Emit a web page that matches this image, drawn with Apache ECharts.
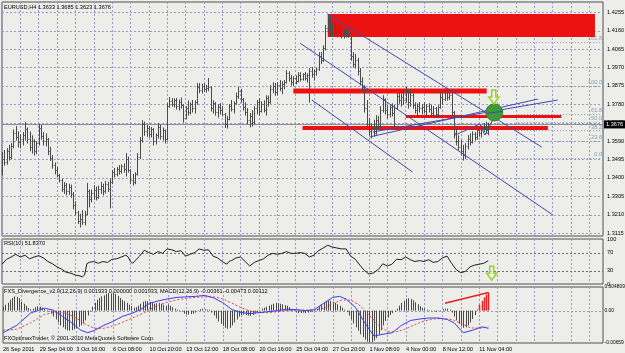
<!DOCTYPE html>
<html>
<head>
<meta charset="utf-8">
<script src="https://cdn.jsdelivr.net/npm/echarts@6/dist/echarts.min.js"></script>
<style>
html,body{margin:0;padding:0;background:#ededea;}
#main{width:625px;height:353px;}
</style>
</head>
<body>
<div id="main"></div>
<script>
// EURUSD H4 - bars, RSI(10), FXS divergence / MACD
var dateLabels = ['26 Sep 2011','29 Sep 04:00','3 Oct 16:00','6 Oct 08:00','10 Oct 20:00','13 Oct 12:00','18 Oct 08:00','20 Oct 16:00','25 Oct 04:00','27 Oct 20:00','1 Nov 08:00','4 Nov 00:00','8 Nov 12:00','11 Nov 04:00'];
var priceTicks = [1.4255,1.4160,1.4065,1.3970,1.3875,1.3780,1.3685,1.3590,1.3495,1.3400,1.3305,1.3210,1.3115];
var bidPrice = 1.3676;

var opens = [1.3440,1.3500,1.3480,1.3540,1.3510,1.3565,1.3630,1.3610,1.3585,1.3600,
1.3620,1.3650,1.3600,1.3560,1.3590,1.3540,1.3580,1.3660,1.3615,1.3590,
1.3600,1.3540,1.3505,1.3465,1.3440,1.3415,1.3390,1.3345,1.3365,1.3330,
1.3355,1.3315,1.3260,1.3225,1.3180,1.3190,1.3170,1.3215,1.3330,1.3290,
1.3320,1.3340,1.3300,1.3345,1.3360,1.3330,1.3370,1.3345,1.3380,1.3430,
1.3420,1.3445,1.3435,1.3460,1.3445,1.3500,1.3440,1.3390,1.3380,1.3420,
1.3510,1.3595,1.3680,1.3640,1.3655,1.3625,1.3650,1.3590,1.3620,1.3665,
1.3615,1.3645,1.3600,1.3770,1.3795,1.3780,1.3800,1.3770,1.3790,1.3775,
1.3710,1.3760,1.3740,1.3780,1.3760,1.3790,1.3870,1.3855,1.3875,1.3860,
1.3865,1.3870,1.3760,1.3785,1.3740,1.3765,1.3750,1.3730,1.3680,1.3705,
1.3770,1.3755,1.3785,1.3825,1.3850,1.3805,1.3765,1.3740,1.3700,1.3720,
1.3690,1.3760,1.3790,1.3745,1.3780,1.3750,1.3810,1.3790,1.3860,1.3875,
1.3845,1.3880,1.3865,1.3885,1.3895,1.3940,1.3915,1.3895,1.3915,1.3900,
1.3930,1.3910,1.3935,1.3915,1.3930,1.3950,1.3935,1.3950,1.3960,1.4030,
1.4010,1.4070,1.4175,1.4210,1.4160,1.4185,1.4155,1.4175,1.4150,1.4140,
1.4160,1.4135,1.4150,1.4030,1.3990,1.4010,1.3950,1.3900,1.3870,1.3760,
1.3680,1.3640,1.3660,1.3630,1.3700,1.3670,1.3750,1.3805,1.3750,1.3730,
1.3765,1.3735,1.3760,1.3825,1.3800,1.3820,1.3800,1.3850,1.3790,1.3830,
1.3775,1.3750,1.3770,1.3760,1.3765,1.3745,1.3770,1.3755,1.3735,1.3760,
1.3730,1.3765,1.3820,1.3805,1.3845,1.3815,1.3830,1.3740,1.3630,1.3590,
1.3560,1.3540,1.3520,1.3565,1.3600,1.3585,1.3625,1.3610,1.3645,1.3630,
1.3655,1.3665,1.3633];
var highs = [1.3533,1.3544,1.3554,1.3570,1.3580,1.3650,1.3668,1.3640,1.3625,1.3637,
1.3688,1.3660,1.3640,1.3620,1.3600,1.3590,1.3678,1.3673,1.3637,1.3630,
1.3606,1.3560,1.3518,1.3480,1.3456,1.3420,1.3395,1.3379,1.3374,1.3370,
1.3365,1.3327,1.3280,1.3230,1.3215,1.3234,1.3230,1.3374,1.3340,1.3340,
1.3363,1.3355,1.3360,1.3379,1.3370,1.3385,1.3380,1.3395,1.3441,1.3451,
1.3456,1.3466,1.3470,1.3475,1.3528,1.3510,1.3445,1.3420,1.3430,1.3528,
1.3611,1.3698,1.3690,1.3673,1.3668,1.3663,1.3657,1.3630,1.3683,1.3675,
1.3660,1.3650,1.3786,1.3817,1.3812,1.3810,1.3812,1.3805,1.3815,1.3780,
1.3770,1.3800,1.3790,1.3802,1.3800,1.3889,1.3889,1.3885,1.3889,1.3880,
1.3915,1.3872,1.3800,1.3791,1.3780,1.3786,1.3770,1.3735,1.3720,1.3780,
1.3802,1.3795,1.3840,1.3869,1.3860,1.3812,1.3790,1.3760,1.3735,1.3750,
1.3770,1.3802,1.3812,1.3795,1.3800,1.3827,1.3825,1.3879,1.3894,1.3890,
1.3895,1.3905,1.3900,1.3905,1.3956,1.3950,1.3931,1.3925,1.3930,1.3946,
1.3945,1.3940,1.3946,1.3940,1.3967,1.3972,1.3960,1.3970,1.4049,1.4050,
1.4085,1.4189,1.4246,1.4230,1.4199,1.4205,1.4195,1.4190,1.4173,1.4168,
1.4170,1.4163,1.4155,1.4049,1.4040,1.4020,1.3967,1.3920,1.3879,1.3802,
1.3709,1.3680,1.3700,1.3724,1.3720,1.3770,1.3827,1.3810,1.3776,1.3775,
1.3785,1.3776,1.3843,1.3838,1.3835,1.3853,1.3869,1.3855,1.3845,1.3835,
1.3790,1.3785,1.3791,1.3780,1.3791,1.3780,1.3786,1.3776,1.3770,1.3766,
1.3775,1.3838,1.3843,1.3864,1.3855,1.3850,1.3838,1.3745,1.3650,1.3620,
1.3595,1.3570,1.3580,1.3621,1.3630,1.3640,1.3637,1.3660,1.3663,1.3670,
1.3683,1.3690,1.3685];
var lows = [1.3415,1.3466,1.3470,1.3492,1.3500,1.3555,1.3595,1.3560,1.3554,1.3570,
1.3595,1.3580,1.3540,1.3528,1.3518,1.3525,1.3570,1.3600,1.3570,1.3565,
1.3520,1.3490,1.3450,1.3420,1.3405,1.3379,1.3330,1.3320,1.3312,1.3315,
1.3300,1.3240,1.3208,1.3165,1.3147,1.3160,1.3157,1.3210,1.3250,1.3276,
1.3290,1.3286,1.3295,1.3320,1.3312,1.3322,1.3330,1.3245,1.3370,1.3405,
1.3410,1.3420,1.3425,1.3430,1.3410,1.3430,1.3370,1.3363,1.3370,1.3415,
1.3500,1.3585,1.3620,1.3615,1.3611,1.3611,1.3570,1.3575,1.3605,1.3600,
1.3595,1.3580,1.3595,1.3765,1.3770,1.3766,1.3755,1.3750,1.3760,1.3688,
1.3705,1.3724,1.3730,1.3740,1.3735,1.3780,1.3840,1.3838,1.3845,1.3843,
1.3850,1.3745,1.3735,1.3724,1.3714,1.3730,1.3720,1.3660,1.3657,1.3700,
1.3745,1.3735,1.3780,1.3810,1.3791,1.3750,1.3724,1.3680,1.3663,1.3668,
1.3680,1.3730,1.3724,1.3740,1.3740,1.3724,1.3770,1.3785,1.3840,1.3827,
1.3830,1.3850,1.3835,1.3860,1.3890,1.3900,1.3879,1.3875,1.3885,1.3895,
1.3900,1.3905,1.3905,1.3894,1.3791,1.3920,1.3905,1.3930,1.3955,1.3990,
1.4000,1.4060,1.4160,1.4137,1.4130,1.4140,1.4127,1.4140,1.4122,1.4122,
1.4127,1.4125,1.4008,1.3972,1.3967,1.3931,1.3880,1.3853,1.3740,1.3657,
1.3621,1.3606,1.3615,1.3625,1.3650,1.3660,1.3740,1.3730,1.3709,1.3715,
1.3720,1.3657,1.3755,1.3785,1.3770,1.3780,1.3790,1.3761,1.3770,1.3760,
1.3735,1.3724,1.3740,1.3730,1.3735,1.3724,1.3740,1.3714,1.3720,1.3714,
1.3720,1.3760,1.3780,1.3800,1.3802,1.3805,1.3724,1.3606,1.3570,1.3544,
1.3518,1.3492,1.3500,1.3550,1.3570,1.3580,1.3595,1.3600,1.3615,1.3611,
1.3640,1.3632,1.3623];
var closes = [1.3500,1.3480,1.3540,1.3510,1.3565,1.3630,1.3610,1.3585,1.3600,1.3620,
1.3650,1.3600,1.3560,1.3590,1.3540,1.3580,1.3660,1.3615,1.3590,1.3600,
1.3540,1.3505,1.3465,1.3440,1.3415,1.3390,1.3345,1.3365,1.3330,1.3355,
1.3315,1.3260,1.3225,1.3180,1.3190,1.3170,1.3215,1.3330,1.3290,1.3320,
1.3340,1.3300,1.3345,1.3360,1.3330,1.3370,1.3345,1.3380,1.3430,1.3420,
1.3445,1.3435,1.3460,1.3445,1.3500,1.3440,1.3390,1.3380,1.3420,1.3510,
1.3595,1.3680,1.3640,1.3655,1.3625,1.3650,1.3590,1.3620,1.3665,1.3615,
1.3645,1.3600,1.3770,1.3795,1.3780,1.3800,1.3770,1.3790,1.3775,1.3710,
1.3760,1.3740,1.3780,1.3760,1.3790,1.3870,1.3855,1.3875,1.3860,1.3865,
1.3870,1.3760,1.3785,1.3740,1.3765,1.3750,1.3730,1.3680,1.3705,1.3770,
1.3755,1.3785,1.3825,1.3850,1.3805,1.3765,1.3740,1.3700,1.3720,1.3690,
1.3760,1.3790,1.3745,1.3780,1.3750,1.3810,1.3790,1.3860,1.3875,1.3845,
1.3880,1.3865,1.3885,1.3895,1.3940,1.3915,1.3895,1.3915,1.3900,1.3930,
1.3910,1.3935,1.3915,1.3930,1.3950,1.3935,1.3950,1.3960,1.4030,1.4010,
1.4070,1.4175,1.4210,1.4160,1.4185,1.4155,1.4175,1.4150,1.4140,1.4160,
1.4135,1.4150,1.4030,1.3990,1.4010,1.3950,1.3900,1.3870,1.3760,1.3680,
1.3640,1.3660,1.3630,1.3700,1.3670,1.3750,1.3805,1.3750,1.3730,1.3765,
1.3735,1.3760,1.3825,1.3800,1.3820,1.3800,1.3850,1.3790,1.3830,1.3775,
1.3750,1.3770,1.3760,1.3765,1.3745,1.3770,1.3755,1.3735,1.3760,1.3730,
1.3765,1.3820,1.3805,1.3845,1.3815,1.3830,1.3740,1.3630,1.3590,1.3560,
1.3540,1.3520,1.3565,1.3600,1.3585,1.3625,1.3610,1.3645,1.3630,1.3655,
1.3665,1.3633,1.3676];

// RSI(10), read at bar positions
var rsiIdx = [0,2,4,6,8,10,12,14,16,18,20,22,24,26,28,30,32,34,35,36,37,38,40,42,44,46,48,50,52,54,55,56,57,58,60,62,64,66,68,70,72,74,76,78,80,82,84,86,88,90,92,94,96,98,99,100,102,104,106,108,110,112,114,116,118,120,122,124,126,128,130,132,134,136,138,140,142,144,146,148,150,152,154,156,158,160,162,164,166,168,170,172,174,176,178,180,182,184,186,188,190,192,194,196,198,200,202,204,206,208,210,212];
var rsiVal = [44,55,60,66,60,64,56,60,63,58,50,45,38,33,26,24,20,18,16,20,45,48,50,46,50,48,55,56,60,64,60,50,46,52,62,75,70,66,72,68,78,76,72,74,62,66,70,78,75,76,62,58,50,44,50,52,58,60,50,40,48,52,56,64,68,66,68,72,68,68,70,68,60,64,74,80,86,82,80,78,78,62,55,42,30,22,25,32,45,40,44,55,54,60,54,50,52,50,54,48,50,58,62,46,32,25,28,38,42,44,46,51.8];

// MACD main (blue) and signal (red dotted)
var macdIdx = [0,6,12,18,22,26,30,34,37,40,44,48,52,56,60,64,68,72,76,80,84,88,92,96,100,104,108,112,116,120,124,128,132,136,140,144,147,150,154,158,162,166,170,174,178,182,186,190,194,197,201,205,209,212];
var macdVal = [-0.0045,-0.0030,-0.0005,0.0005,0.0001,-0.0012,-0.0025,-0.0040,-0.0045,-0.0040,-0.0030,-0.0022,-0.0012,-0.0006,0.0002,0.0015,0.0020,0.0024,0.0027,0.0028,0.0029,0.0031,0.0026,0.0016,0.0002,-0.0004,-0.0006,-0.0004,-0.0002,0.0000,0.0003,0.0002,0.0000,0.0002,0.0015,0.0027,0.0029,0.0023,0.0006,-0.0025,-0.0052,-0.0048,-0.0045,-0.0030,-0.0020,-0.0017,-0.0015,-0.0015,-0.0018,-0.0025,-0.0045,-0.0040,-0.0033,-0.0036];
var signalIdx = [0,6,12,18,24,28,32,36,40,44,48,52,56,60,64,68,72,76,80,84,88,92,96,100,104,108,112,116,120,124,128,132,136,140,144,148,152,156,160,164,168,172,176,180,184,188,192,196,200,204,208,212];
var signalVal = [-0.0040,-0.0038,-0.0025,-0.0008,-0.0002,-0.0006,-0.0015,-0.0028,-0.0036,-0.0036,-0.0031,-0.0024,-0.0016,-0.0008,0.0002,0.0011,0.0018,0.0022,0.0025,0.0027,0.0028,0.0028,0.0024,0.0015,0.0006,-0.0001,-0.0004,-0.0004,-0.0002,0.0000,0.0001,0.0001,0.0001,0.0005,0.0014,0.0022,0.0021,0.0010,-0.0010,-0.0030,-0.0043,-0.0043,-0.0037,-0.0028,-0.0021,-0.0017,-0.0016,-0.0018,-0.0026,-0.0035,-0.0036,-0.0033];
// histogram, one value per bar
var histVal = [0.0008,0.0012,0.0016,0.0022,0.0026,0.0029,0.0028,0.0025,0.0018,0.0014,
0.0010,0.0005,0.0003,0.0004,0.0007,0.0009,0.0008,0.0006,0.0003,0.0001,
-0.0002,-0.0006,-0.0012,-0.0018,-0.0024,-0.0030,-0.0034,-0.0038,-0.0040,-0.0041,
-0.0040,-0.0038,-0.0036,-0.0033,-0.0030,-0.0026,-0.0020,-0.0010,-0.0002,0.0008,
0.0016,0.0022,0.0026,0.0029,0.0031,0.0034,0.0036,0.0035,0.0036,0.0034,
0.0030,0.0026,0.0022,0.0019,0.0016,0.0012,0.0009,0.0006,0.0007,0.0010,
0.0014,0.0018,0.0020,0.0019,0.0018,0.0016,0.0014,0.0015,0.0016,0.0014,
0.0012,0.0010,0.0012,0.0010,0.0007,0.0004,0.0002,0.0001,-0.0002,-0.0006,
-0.0008,-0.0008,-0.0007,-0.0006,-0.0004,0.0001,0.0003,0.0004,0.0003,0.0002,
0.0002,-0.0004,-0.0010,-0.0016,-0.0022,-0.0027,-0.0031,-0.0035,-0.0037,-0.0035,
-0.0030,-0.0024,-0.0018,-0.0012,-0.0009,-0.0008,-0.0009,-0.0010,-0.0011,-0.0009,
-0.0006,-0.0003,0.0001,0.0004,0.0006,0.0008,0.0010,0.0012,0.0014,0.0016,
0.0015,0.0014,0.0013,0.0011,0.0010,0.0007,0.0003,-0.0001,-0.0003,-0.0005,
-0.0005,-0.0004,-0.0005,-0.0004,-0.0003,-0.0002,0.0001,0.0004,0.0009,0.0013,
0.0016,0.0019,0.0021,0.0020,0.0018,0.0016,0.0013,0.0010,0.0006,0.0002,
-0.0003,-0.0010,-0.0018,-0.0026,-0.0034,-0.0041,-0.0048,-0.0054,-0.0059,-0.0063,
-0.0065,-0.0064,-0.0061,-0.0056,-0.0049,-0.0040,-0.0030,-0.0021,-0.0014,-0.0009,
-0.0005,-0.0002,0.0004,0.0010,0.0016,0.0020,0.0024,0.0025,0.0024,0.0021,
0.0017,0.0013,0.0009,0.0006,0.0004,0.0002,0.0001,-0.0001,-0.0002,-0.0002,
-0.0001,0.0001,0.0003,0.0004,0.0004,0.0002,-0.0004,-0.0012,-0.0020,-0.0027,
-0.0032,-0.0035,-0.0034,-0.0030,-0.0024,-0.0017,-0.0009,0.0002,0.0012,0.0020,
0.0027,0.0033,0.0037];
var redHistFrom = 208;
var histDivLine = [[193, 0.0015], [212, 0.0037]];

// drawn objects (bar index, price)
var supplyZone = [142, 258.5, 1.4246, 1.4127];
var redLevels = [[127, 211.3, 1.3848], [176, 243.8, 1.3717], [131, 238, 1.3657]];
var trendLines = [
  [141.9, 1.4246, 235.3, 1.3559],
  [130.0, 1.4095, 240.1, 1.3209],
  [135.1, 1.3802, 179.0, 1.3430],
  [160.2, 1.3611, 233.6, 1.3807],
  [161.6, 1.3637, 242.3, 1.3802],
  [197.5, 1.3621, 208.3, 1.3678],
  [208.3, 1.3678, 210.5, 1.3621],
  [210.5, 1.3621, 214.4, 1.3709]
];
var fibLow = 1.3503, fibHigh = 1.3874;
var fibLevels = [0, 23.6, 38.2, 50, 61.8, 100, 161.8];
var fibFrom = 225;
var targetPoint = [214.6, 1.3738];
var arrowMain = [214.4, 1.3818];
var arrowRsi = [213.5, 24];

var rsiTicks = [100, 70, 30, 0];
var rsiLevels = [70, 30];
var macdTicks = [0.004809, 0, -0.00659];
var macdTickText = ['0.004809', '0.00', '-0.00659'];

var FONT = '"Liberation Sans", Arial, sans-serif';
var FS = 5.6;
var GRIDC = '#9898c6';
var XMAX = 262;

var chart = echarts.init(document.getElementById('main'));

function xAxisFor(gi, labels) {
  return {
    type: 'value', gridIndex: gi, min: 0, max: XMAX, interval: 8,
    axisLine: {show: false}, axisTick: {show: false},
    axisLabel: {
      show: labels, color: '#000', fontSize: FS, fontFamily: FONT, margin: 3, align: 'left',
      showMaxLabel: false,
      formatter: function (v) { return (v % 16 === 0 && dateLabels[v / 16]) ? dateLabels[v / 16] : ''; }
    },
    splitLine: {show: true, lineStyle: {color: GRIDC, type: [2, 2], width: 1}}
  };
}

function txt(x, y, s, color, align, size) {
  return {type: 'text', x: x, y: y, silent: true,
    style: {text: s, fill: color || '#000', font: (size || FS) + 'px ' + FONT, align: align || 'left', verticalAlign: 'middle'}};
}

function hLine(a, b, color, dash, w) {
  var y = Math.round(a[1]) + 0.5;
  return {type: 'line', shape: {x1: a[0], y1: y, x2: b[0], y2: y},
    style: {stroke: color, lineDash: dash, lineWidth: w || 1}};
}

function arrowShape(c) {
  var x = c[0], y = c[1];
  return {type: 'polygon', shape: {points: [[x - 2, y - 7], [x + 2, y - 7], [x + 2, y], [x + 5, y], [x, y + 7], [x - 5, y], [x - 2, y]]},
    style: {fill: 'rgba(240,255,220,0.5)', stroke: '#9acd32', lineWidth: 1.5}};
}

var series = [];

// main: horizontal grid + price labels
series.push({
  type: 'custom', xAxisIndex: 0, yAxisIndex: 0, silent: true, clip: false, z: 1,
  data: priceTicks.map(function (v) { return [0, v]; }),
  renderItem: function (p, api) {
    var a = api.coord([0, api.value(1)]), b = api.coord([XMAX, api.value(1)]);
    return {type: 'group', children: [
      hLine(a, b, GRIDC, [2, 2]),
      txt(b[0] + 4, a[1], api.value(1).toFixed(4))
    ]};
  }
});

// fibonacci levels
series.push({
  type: 'custom', xAxisIndex: 0, yAxisIndex: 0, silent: true, clip: false, z: 2,
  data: fibLevels.map(function (f) { return [f, fibLow + (fibHigh - fibLow) * f / 100]; }),
  renderItem: function (p, api) {
    var a = api.coord([fibFrom, api.value(1)]), b = api.coord([XMAX, api.value(1)]);
    return {type: 'group', children: [
      hLine(a, b, '#7fa0ae', [1, 2]),
      {type: 'text', x: b[0] - 1, y: a[1] - 0.5, silent: true,
        style: {text: api.value(0).toFixed(1), fill: '#7fa0ae', font: FS + 'px ' + FONT, align: 'right', verticalAlign: 'bottom'}}
    ]};
  }
});

// supply zone
series.push({
  type: 'custom', xAxisIndex: 0, yAxisIndex: 0, silent: true, z: 3,
  data: [supplyZone],
  renderItem: function (p, api) {
    var a = api.coord([api.value(0), api.value(2)]), b = api.coord([api.value(1), api.value(3)]);
    return {type: 'rect', shape: {x: a[0], y: a[1], width: b[0] - a[0], height: b[1] - a[1]}, style: {fill: '#ec1212'}};
  }
});

// red levels
var levelWidths = [5, 3, 4];
series.push({
  type: 'custom', xAxisIndex: 0, yAxisIndex: 0, silent: true, z: 4,
  data: redLevels.map(function (r, k) { return [r[0], r[1], r[2], k]; }),
  renderItem: function (p, api) {
    var a = api.coord([api.value(0), api.value(2)]), b = api.coord([api.value(1), api.value(2)]);
    return {type: 'line', shape: {x1: a[0], y1: a[1], x2: b[0], y2: b[1]},
      style: {stroke: '#ec1212', lineWidth: levelWidths[api.value(3)]}};
  }
});

// bid line
series.push({
  type: 'custom', xAxisIndex: 0, yAxisIndex: 0, silent: true, clip: false, z: 5,
  data: [[0, bidPrice]],
  renderItem: function (p, api) {
    var a = api.coord([0, api.value(1)]), b = api.coord([XMAX, api.value(1)]);
    return {type: 'group', children: [
      hLine(a, b, '#8c8c96', null),
      {type: 'rect', shape: {x: b[0] + 1, y: a[1] - 4, width: 22, height: 8}, style: {fill: '#000'}},
      txt(b[0] + 3, a[1], api.value(1).toFixed(4), '#fff')
    ]};
  }
});

// OHLC bars
series.push({
  type: 'custom', xAxisIndex: 0, yAxisIndex: 0, silent: true, z: 6,
  data: opens.map(function (o, i) { return [i, o, highs[i], lows[i], closes[i]]; }),
  encode: {x: 0, y: [1, 2, 3, 4]},
  renderItem: function (p, api) {
    var i = api.value(0);
    var o = api.coord([i, api.value(1)]), h = api.coord([i, api.value(2)]);
    var l = api.coord([i, api.value(3)]), c = api.coord([i, api.value(4)]);
    var x = Math.round(h[0]) + 0.5;
    var st = {stroke: '#4a4a4a', lineWidth: 1};
    return {type: 'group', children: [
      {type: 'line', shape: {x1: x, y1: h[1], x2: x, y2: l[1] + 0.5}, style: st},
      {type: 'line', shape: {x1: x - 1, y1: Math.round(o[1]) + 0.5, x2: x, y2: Math.round(o[1]) + 0.5}, style: st},
      {type: 'line', shape: {x1: x, y1: Math.round(c[1]) + 0.5, x2: x + 1, y2: Math.round(c[1]) + 0.5}, style: st}
    ]};
  }
});

// trend lines
series.push({
  type: 'custom', xAxisIndex: 0, yAxisIndex: 0, silent: true, z: 7,
  data: trendLines,
  renderItem: function (p, api) {
    var a = api.coord([api.value(0), api.value(1)]), b = api.coord([api.value(2), api.value(3)]);
    return {type: 'line', shape: {x1: a[0], y1: a[1], x2: b[0], y2: b[1]}, style: {stroke: '#4646a8', lineWidth: 1}};
  }
});

// target circle and arrow
series.push({
  type: 'custom', xAxisIndex: 0, yAxisIndex: 0, silent: true, clip: false, z: 8,
  data: [[targetPoint[0], targetPoint[1], arrowMain[0], arrowMain[1]]],
  renderItem: function (p, api) {
    var c = api.coord([api.value(0), api.value(1)]);
    var a = api.coord([api.value(2), api.value(3)]);
    return {type: 'group', children: [
      {type: 'circle', shape: {cx: c[0], cy: c[1], r: 8.5}, style: {fill: '#3f9c3a', stroke: '#2f7f2f', lineWidth: 1}},
      {type: 'line', shape: {x1: c[0] - 8, y1: c[1] + 1, x2: c[0] + 8, y2: c[1] - 1}, style: {stroke: '#4646a8', lineWidth: 1}},
      arrowShape(a)
    ]};
  }
});

// RSI panel
series.push({
  type: 'custom', xAxisIndex: 1, yAxisIndex: 1, silent: true, clip: false, z: 1,
  data: rsiTicks.map(function (v) { return [0, v]; }),
  renderItem: function (p, api) {
    var v = api.value(1);
    var a = api.coord([0, v]), b = api.coord([XMAX, v]);
    var kids = [txt(b[0] + 4, a[1], String(v))];
    if (rsiLevels.indexOf(v) >= 0) kids.push(hLine(a, b, '#6a6a80', [2, 2]));
    return {type: 'group', children: kids};
  }
});
series.push({
  type: 'line', xAxisIndex: 1, yAxisIndex: 1, silent: true, symbol: 'none', z: 3,
  data: rsiIdx.map(function (i, k) { return [i, rsiVal[k]]; }),
  lineStyle: {color: '#1e1e1e', width: 1}
});
series.push({
  type: 'custom', xAxisIndex: 1, yAxisIndex: 1, silent: true, clip: false, z: 4,
  data: [arrowRsi],
  renderItem: function (p, api) {
    return arrowShape(api.coord([api.value(0), api.value(1)]));
  }
});

// MACD panel
series.push({
  type: 'custom', xAxisIndex: 2, yAxisIndex: 2, silent: true, clip: false, z: 1,
  data: macdTicks.map(function (v, k) { return [k, v]; }),
  renderItem: function (p, api) {
    var v = api.value(1);
    var a = api.coord([0, v]), b = api.coord([XMAX, v]);
    var kids = [txt(b[0] + 1.5, a[1], macdTickText[api.value(0)], '#000', 'left', 4.9)];
    if (v === 0) kids.push(hLine(a, b, GRIDC, [2, 2]));
    return {type: 'group', children: kids};
  }
});
series.push({
  type: 'custom', xAxisIndex: 2, yAxisIndex: 2, silent: true, z: 2,
  data: histVal.map(function (v, i) { return [i, v]; }),
  renderItem: function (p, api) {
    var i = api.value(0);
    var z = api.coord([i, 0]), t = api.coord([i, api.value(1)]);
    var x = Math.round(z[0]) + 0.5;
    var red = i >= redHistFrom;
    return {type: 'line', shape: {x1: x, y1: z[1], x2: x, y2: t[1]},
      style: {stroke: red ? '#e82020' : '#4a4a4a', lineWidth: red ? 1.5 : 1}};
  }
});
series.push({
  type: 'line', xAxisIndex: 2, yAxisIndex: 2, silent: true, symbol: 'none', z: 3,
  data: signalIdx.map(function (i, k) { return [i, signalVal[k]]; }),
  lineStyle: {color: '#e04040', width: 1, type: [2, 2]}
});
series.push({
  type: 'line', xAxisIndex: 2, yAxisIndex: 2, silent: true, symbol: 'none', z: 4,
  data: macdIdx.map(function (i, k) { return [i, macdVal[k]]; }),
  lineStyle: {color: '#3a3af0', width: 1}
});
series.push({
  type: 'custom', xAxisIndex: 2, yAxisIndex: 2, silent: true, z: 5,
  data: [[histDivLine[0][0], histDivLine[0][1], histDivLine[1][0], histDivLine[1][1]]],
  renderItem: function (p, api) {
    var a = api.coord([api.value(0), api.value(1)]), b = api.coord([api.value(2), api.value(3)]);
    return {type: 'line', shape: {x1: a[0], y1: a[1], x2: b[0], y2: b[1]}, style: {stroke: '#e82020', lineWidth: 1.5}};
  }
});

var option = {
  backgroundColor: '#ededea',
  animation: false,
  grid: [
    {left: 2, right: 22, top: 2, height: 234, show: true, borderColor: '#505050', borderWidth: 1},
    {left: 2, right: 22, top: 239, height: 45, show: true, borderColor: '#505050', borderWidth: 1},
    {left: 2, right: 22, top: 287, height: 56, show: true, borderColor: '#505050', borderWidth: 1}
  ],
  xAxis: [xAxisFor(0, false), xAxisFor(1, false), xAxisFor(2, true)],
  yAxis: [
    {type: 'value', gridIndex: 0, min: 1.3100, max: 1.4308, show: false},
    {type: 'value', gridIndex: 1, min: 0, max: 100, show: false},
    {type: 'value', gridIndex: 2, min: -0.00659, max: 0.004809, show: false}
  ],
  graphic: [
    txt(4, 7, 'EURUSD,H4 1.3633 1.3685 1.3623 1.3676'),
    txt(4, 243, 'RSI(10) 51.8370'),
    txt(4, 291, 'FXS_Divergence_v2.0(12,26,9) 0.001933 0.000000 0.001933, MACD(12,26,9) -0.00361 -0.00473 0.00112'),
    txt(4, 338, 'FXOptimaxTrader, \u00a9 2001-2010 MetaQuotes Software Corp.')
  ],
  series: series
};
chart.setOption(option);
</script>
</body>
</html>
